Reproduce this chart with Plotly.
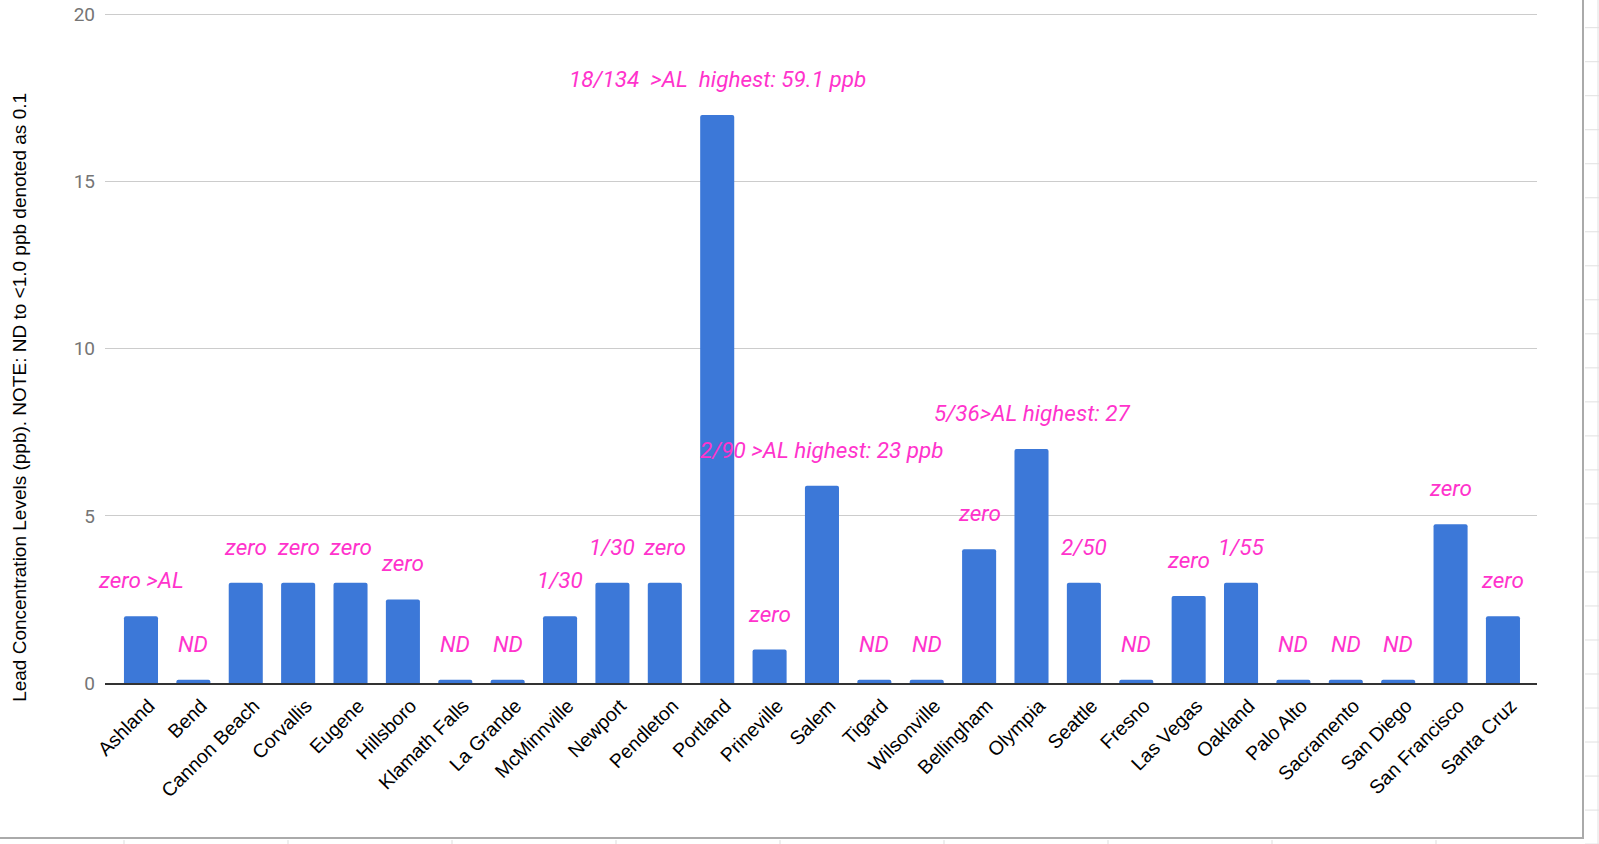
import plotly.graph_objects as go

cities = ["Ashland", "Bend", "Cannon Beach", "Corvallis", "Eugene", "Hillsboro",
          "Klamath Falls", "La Grande", "McMinnville", "Newport", "Pendleton",
          "Portland", "Prineville", "Salem", "Tigard", "Wilsonville", "Bellingham",
          "Olympia", "Seattle", "Fresno", "Las Vegas", "Oakland", "Palo Alto",
          "Sacramento", "San Diego", "San Francisco", "Santa Cruz"]
lead_ppb = [2, 0.1, 3, 3, 3, 2.5, 0.1, 0.1, 2, 3, 3, 17, 1, 5.9, 0.1, 0.1, 4, 7,
            3, 0.1, 2.6, 3, 0.1, 0.1, 0.1, 4.75, 2]
notes = ["zero >AL", "ND", "zero", "zero", "zero", "zero", "ND", "ND", "1/30",
         "1/30", "zero", "18/134  >AL  highest: 59.1 ppb", "zero",
         "2/90 >AL highest: 23 ppb", "ND", "ND", "zero", "5/36>AL highest: 27",
         "2/50", "ND", "zero", "1/55", "ND", "ND", "ND", "zero", "zero"]
y_ticks = [0, 5, 10, 15, 20]
y_title = "Lead Concentration Levels (ppb). NOTE: ND to <1.0 ppb denoted as 0.1"

W, H = 1599, 844
YMAX = 20.05
L, R, B = 105, 1537, 683            # plot area in pixels
T = 15 - (YMAX - 20) * (683 - 15) / 20
PW, PH = R - L, B - T

def px(x):
    return (x - L) / PW

def py(y):
    return (B - y) / PH

fig = go.Figure()
fig.add_trace(go.Bar(
    x=list(range(len(cities))), y=lead_ppb,
    marker=dict(color="#3c78d8", cornerradius=2, line=dict(width=0)),
    width=0.65, hoverinfo="x+y"))

annotations = []
for i, (v, t) in enumerate(zip(lead_ppb, notes)):
    annotations.append(dict(
        x=i, y=v, xref="x", yref="y",
        text="<i>" + t.replace("  ", " &nbsp;") + "</i>", showarrow=False,
        yanchor="middle", xanchor="center", yshift=36,
        font=dict(family="Roboto", size=22.5, color="#ff33cc")))

annotations.append(dict(
    x=px(20), y=py(398), xref="paper", yref="paper", text=y_title,
    textangle=-90, showarrow=False, xanchor="center", yanchor="middle",
    font=dict(family="Liberation Sans", size=19, color="#000000")))

shapes = []
# chart frame (spreadsheet embed border)
shapes.append(dict(type="line", xref="paper", yref="paper",
                   x0=px(1583), x1=px(1583), y0=py(-5), y1=py(838),
                   line=dict(color="#aaaaaa", width=2)))
shapes.append(dict(type="line", xref="paper", yref="paper",
                   x0=px(-5), x1=px(1584), y0=py(838), y1=py(838),
                   line=dict(color="#aaaaaa", width=2)))
# spreadsheet grid remnants on the right
for k in range(25):
    yy = 28 + 34 * k
    if yy > 844:
        break
    shapes.append(dict(type="line", xref="paper", yref="paper",
                       x0=px(1585), x1=px(1599), y0=py(yy), y1=py(yy),
                       line=dict(color="#e0e0e0", width=1)))
shapes.append(dict(type="line", xref="paper", yref="paper",
                   x0=px(1598), x1=px(1598), y0=py(-5), y1=py(850),
                   line=dict(color="#e0e0e0", width=1)))
# spreadsheet column markers at the bottom
for k in range(10):
    xx = 124 + 164 * k
    if xx > 1580:
        break
    shapes.append(dict(type="line", xref="paper", yref="paper",
                       x0=px(xx), x1=px(xx), y0=py(840), y1=py(850),
                       line=dict(color="#dddddd", width=1)))

fig.update_layout(
    width=W, height=H,
    margin=dict(l=L, r=W - R, t=T, b=H - B, autoexpand=False),
    paper_bgcolor="white", plot_bgcolor="white",
    showlegend=False,
    font=dict(family="Roboto", color="#000000"),
    annotations=annotations, shapes=shapes,
    xaxis=dict(
        tickmode="array", tickvals=list(range(len(cities))), ticktext=cities,
        tickangle=-45,
        tickfont=dict(family="Liberation Sans", size=19.5, color="#000000"),
        ticklabelshift=8, ticklabelstandoff=2,
        range=[-0.687, 26.65], showgrid=False, zeroline=False,
        showline=True, linecolor="#333333", linewidth=1.5, ticks=""),
    yaxis=dict(
        range=[0, YMAX], tickvals=y_ticks, ticktext=[str(t) for t in y_ticks],
        tickfont=dict(family="Roboto", size=19, color="#757575"),
        showgrid=True, gridcolor="#cccccc", gridwidth=1, zeroline=False,
        showline=False, ticks="", ticklabelstandoff=9),
)

fig.write_html("out.html",
               config={"displayModeBar": False},
               post_script="document.body.style.margin='0';"
                           "document.body.style.overflow='hidden';")
